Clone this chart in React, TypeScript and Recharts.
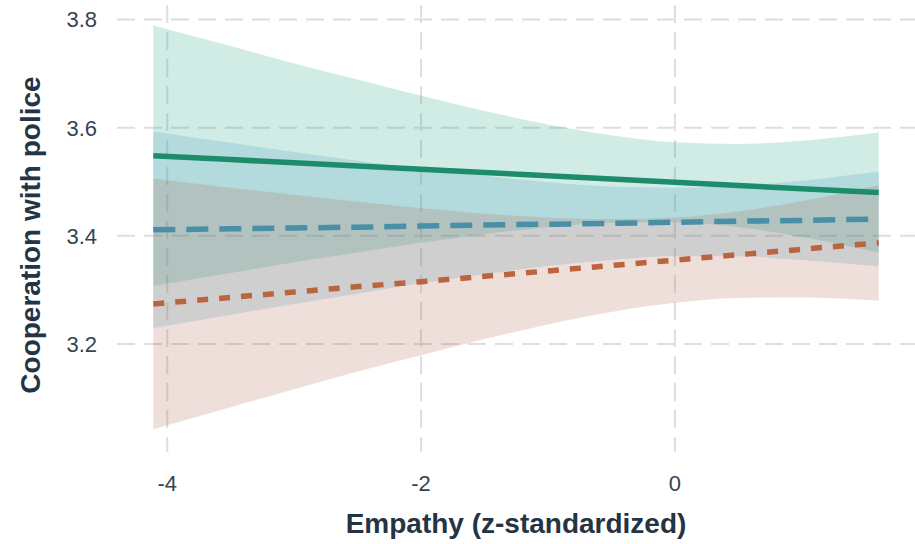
import { Area, CartesianGrid, ComposedChart, Line, XAxis, YAxis } from "recharts";

const empathy = [-4.11, -3.5, -3, -2.5, -2, -1.5, -1, -0.5, 0, 0.5, 1, 1.606];

// solid green group
const solidFit = [3.548, 3.541, 3.535, 3.529, 3.523, 3.517, 3.511, 3.505, 3.499, 3.493, 3.487, 3.48];
const solidLo = [3.307, 3.331, 3.351, 3.369, 3.387, 3.403, 3.416, 3.424, 3.425, 3.416, 3.398, 3.369];
const solidHi = [3.789, 3.751, 3.719, 3.689, 3.659, 3.631, 3.606, 3.586, 3.573, 3.57, 3.576, 3.591];

// dashed blue group
const dashedFit = [3.411, 3.413, 3.4145, 3.416, 3.418, 3.42, 3.4215, 3.423, 3.425, 3.427, 3.4285, 3.431];
const dashedLo = [3.229, 3.254, 3.274, 3.293, 3.312, 3.329, 3.344, 3.355, 3.362, 3.362, 3.355, 3.343];
const dashedHi = [3.593, 3.572, 3.555, 3.539, 3.524, 3.511, 3.499, 3.491, 3.489, 3.492, 3.502, 3.519];

// dotted orange group
const dottedFit = [3.274, 3.286, 3.296, 3.306, 3.315, 3.325, 3.335, 3.345, 3.355, 3.365, 3.375, 3.387];
const dottedLo = [3.042, 3.083, 3.116, 3.149, 3.179, 3.209, 3.236, 3.259, 3.276, 3.285, 3.286, 3.28];
const dottedHi = [3.506, 3.489, 3.476, 3.463, 3.451, 3.441, 3.434, 3.431, 3.434, 3.445, 3.464, 3.494];

const xTicks = [-4, -2, 0];
const yTicks = [3.2, 3.4, 3.6, 3.8];
const xDomain = [-4.396, 1.892];
const yDomain = [3.0, 3.827];

const data = empathy.map((x, i) => ({
  x,
  solid: solidFit[i],
  solidBand: [solidLo[i], solidHi[i]],
  dashed: dashedFit[i],
  dashedBand: [dashedLo[i], dashedHi[i]],
  dotted: dottedFit[i],
  dottedBand: [dottedLo[i], dottedHi[i]],
}));

const FONT = "'Liberation Sans', Arial, sans-serif";
const TICK = { fill: "#36444f", fontSize: 22, fontFamily: FONT };
const TITLE = "#243444";

// grid only at the tick values, no lines on the panel edges
const hLines = ({ yAxis, offset }: any) =>
  yTicks.map((t) =>
    yAxis && typeof yAxis.scale === "function"
      ? yAxis.scale(t)
      : offset.top + offset.height * (1 - (t - yDomain[0]) / (yDomain[1] - yDomain[0]))
  );
const vLines = ({ xAxis, offset }: any) =>
  xTicks.map((t) =>
    xAxis && typeof xAxis.scale === "function"
      ? xAxis.scale(t)
      : offset.left + (offset.width * (t - xDomain[0])) / (xDomain[1] - xDomain[0])
  );

const YTitle = () => (
  <text
    x={40}
    y={235}
    transform="rotate(-90 40 235)"
    textAnchor="middle"
    fill={TITLE}
    fontSize={28}
    fontWeight="bold"
    fontFamily={FONT}
  >
    Cooperation with police
  </text>
);

const XTitle = () => (
  <text x={516} y={533} textAnchor="middle" fill={TITLE} fontSize={28} fontWeight="bold" fontFamily={FONT}>
    Empathy (z-standardized)
  </text>
);

export default function App() {
  return (
    <div style={{ position: "absolute", left: 0, top: 0, background: "#fff" }}>
      <ComposedChart width={915} height={544} data={data} margin={{ top: 5, right: 0, bottom: 0, left: 0 }}>
        <CartesianGrid
          stroke="#dedede"
          strokeWidth={2}
          strokeDasharray="18 9"
          horizontalCoordinatesGenerator={hLines}
          verticalCoordinatesGenerator={vLines}
        />
        <XAxis
          type="number"
          dataKey="x"
          domain={xDomain}
          ticks={xTicks}
          allowDataOverflow
          axisLine={false}
          tickLine={false}
          tickMargin={17}
          height={92}
          tick={TICK}
          label={XTitle}
        />
        <YAxis
          type="number"
          domain={yDomain}
          ticks={yTicks}
          allowDataOverflow
          axisLine={false}
          tickLine={false}
          tickMargin={14}
          width={117}
          tick={TICK}
          tickFormatter={(v) => Number(v).toFixed(1)}
          label={YTitle}
        />
        <Area type="monotone" dataKey="solidBand" fill="#1b9e77" fillOpacity={0.2} stroke="none" isAnimationActive={false} />
        <Area type="monotone" dataKey="dashedBand" fill="#3b9cc1" fillOpacity={0.2} stroke="none" isAnimationActive={false} />
        <Area type="monotone" dataKey="dottedBand" fill="#b05f44" fillOpacity={0.2} stroke="none" isAnimationActive={false} />
        <Line type="linear" dataKey="solid" stroke="#1d8c6a" strokeWidth={5.5} dot={false} isAnimationActive={false} />
        <Line
          type="linear"
          dataKey="dashed"
          stroke="#4a8fa8"
          strokeWidth={5.5}
          strokeDasharray="22 11"
          dot={false}
          isAnimationActive={false}
        />
        <Line
          type="linear"
          dataKey="dotted"
          stroke="#bb6440"
          strokeWidth={5.5}
          strokeDasharray="11 11"
          dot={false}
          isAnimationActive={false}
        />
      </ComposedChart>
    </div>
  );
}
